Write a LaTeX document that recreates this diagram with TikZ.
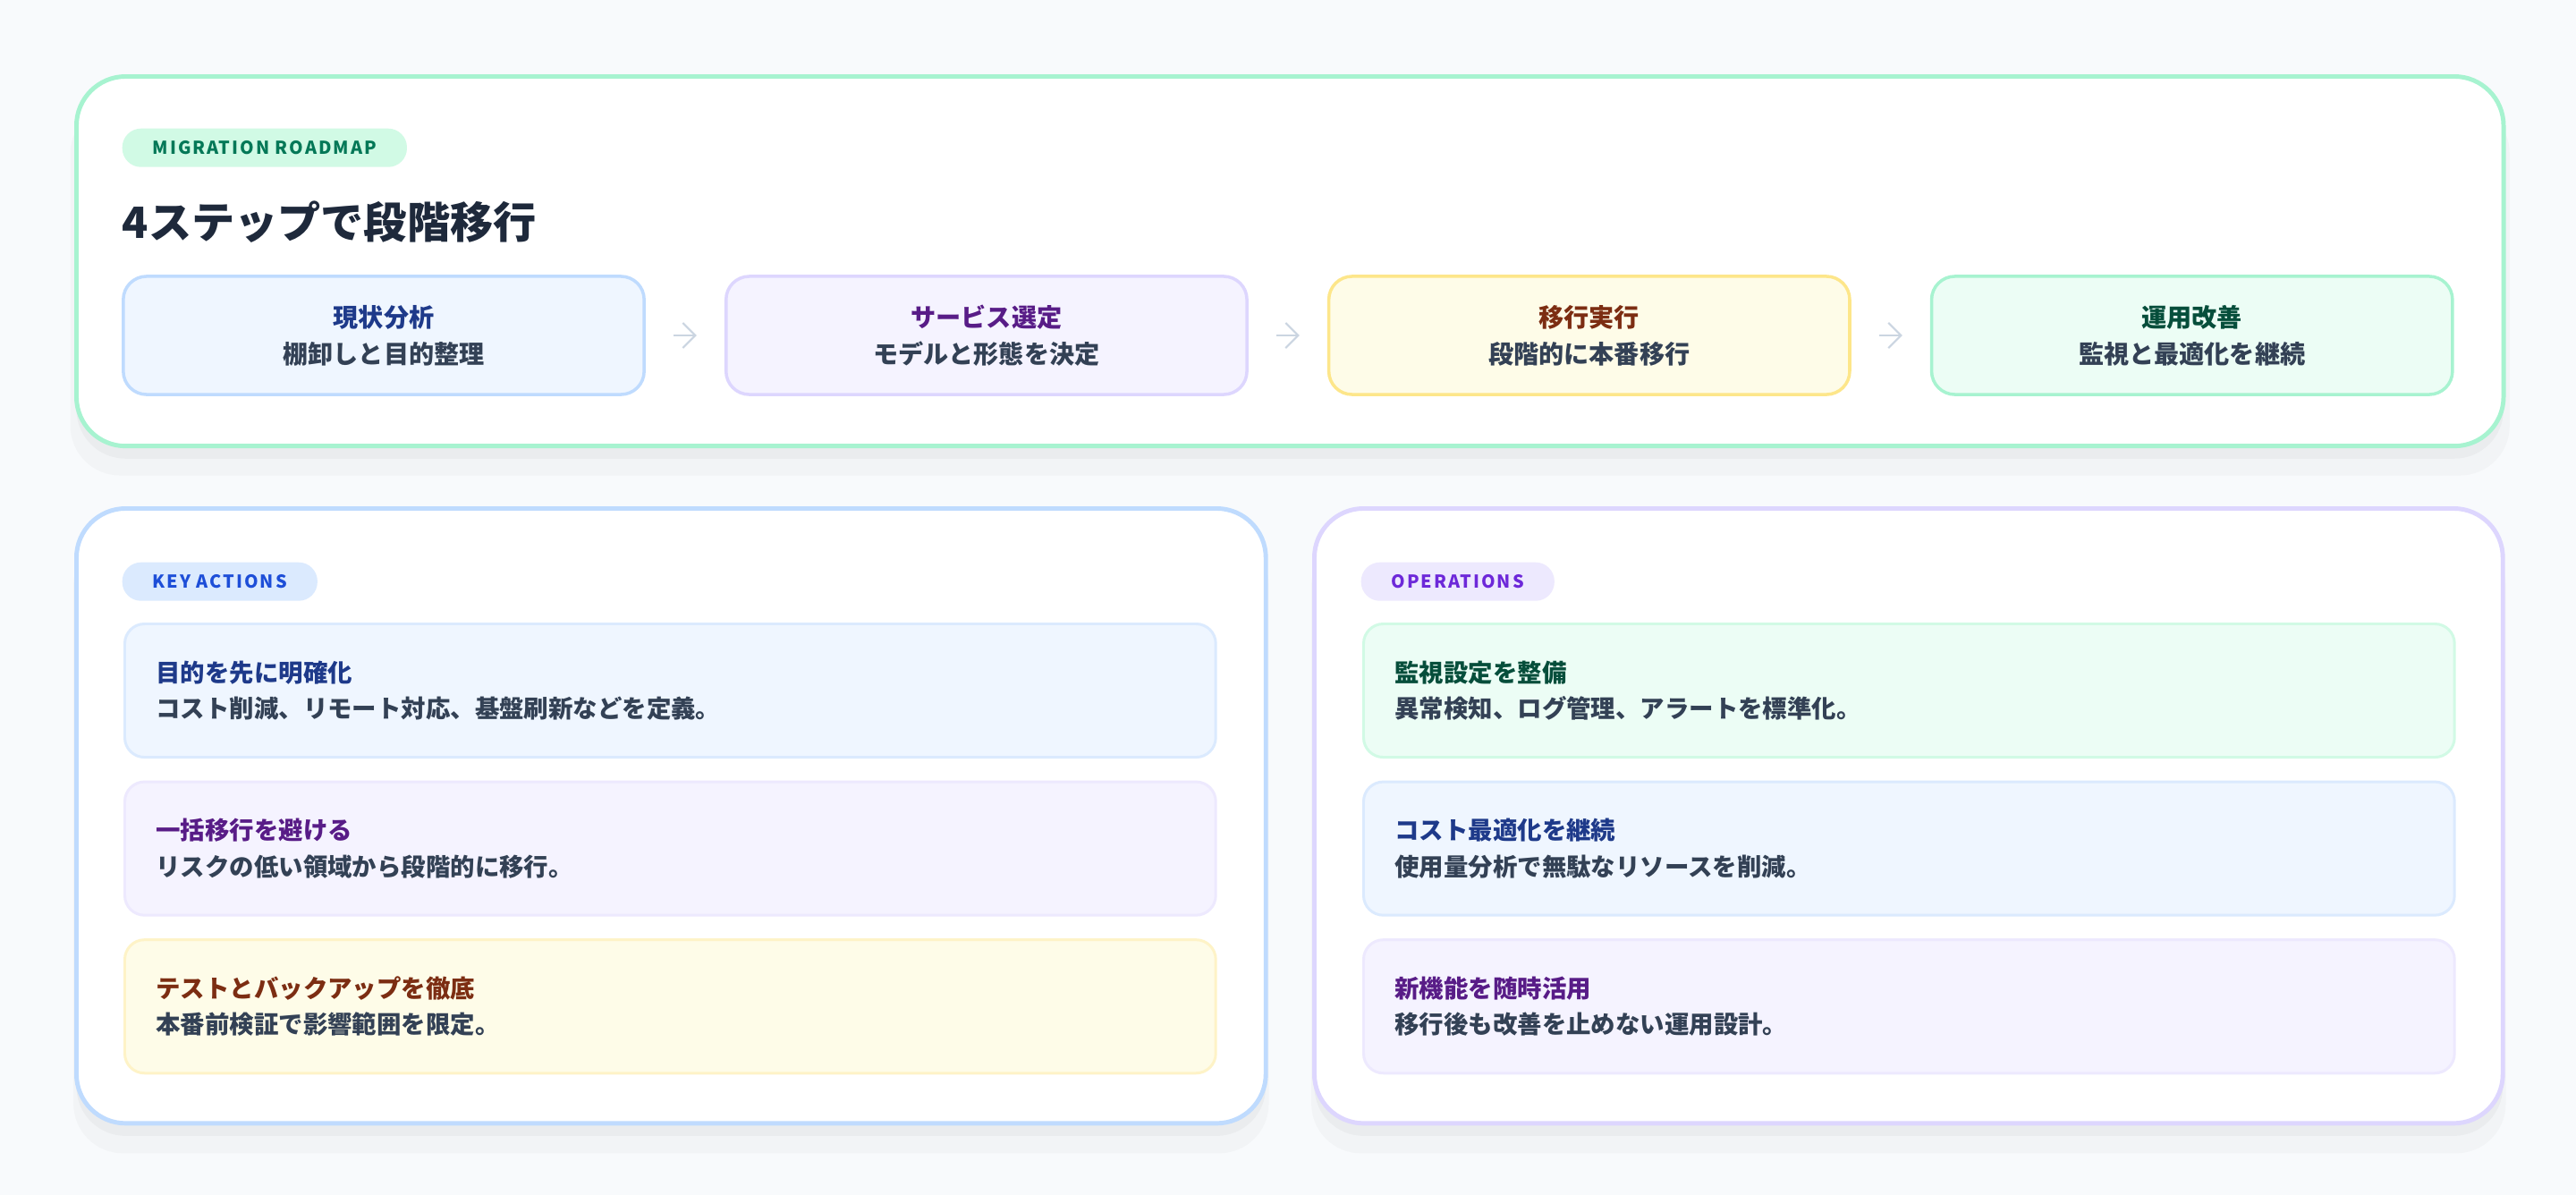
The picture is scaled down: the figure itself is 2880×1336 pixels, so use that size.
\documentclass[tikz,border=0pt]{standalone}
\usepackage{fontspec}
\setmainfont{Noto Sans CJK JP}
\usetikzlibrary{arrows.meta, positioning, shadows}
\definecolor{pagebg}{HTML}{F8FAFC}
\definecolor{inkdark}{HTML}{1E293B}
\definecolor{inkbody}{HTML}{334155}
\definecolor{arrowgray}{HTML}{CBD5E1}
\definecolor{blueline}{HTML}{BFDBFE}
\definecolor{bluesoft}{HTML}{DBEAFE}
\definecolor{bluefill}{HTML}{EFF6FF}
\definecolor{bluetext}{HTML}{1E3A8A}
\definecolor{bluebadge}{HTML}{1D4ED8}
\definecolor{purpleline}{HTML}{DDD6FE}
\definecolor{purplesoft}{HTML}{EDE9FE}
\definecolor{purplefill}{HTML}{F5F3FF}
\definecolor{purpletext}{HTML}{581C87}
\definecolor{purplebadge}{HTML}{6D28D9}
\definecolor{yellowline}{HTML}{FDE68A}
\definecolor{yellowsoft}{HTML}{FEF3C7}
\definecolor{yellowfill}{HTML}{FEFCE8}
\definecolor{browntext}{HTML}{7C2D12}
\definecolor{greenline}{HTML}{A7F3D0}
\definecolor{greensoft}{HTML}{D1FAE5}
\definecolor{greenfill}{HTML}{ECFDF5}
\definecolor{greentext}{HTML}{064E3B}
\definecolor{greenbadge}{HTML}{047857}
\tikzset{
	panel/.style={rectangle, rounded corners=0.55cm, line width=1.4pt, fill=white, anchor=north west,
		drop shadow={shadow xshift=0pt, shadow yshift=-9pt, shadow scale=1.005, opacity=0.025, fill=black},
		drop shadow={shadow xshift=0pt, shadow yshift=-4pt, opacity=0.03, fill=black}},
	badge/.style={rectangle, rounded corners=0.21cm, minimum height=0.43cm, inner xsep=0.34cm, inner ysep=0pt, anchor=north west, font=\bfseries\fontsize{5.65}{6}\selectfont\addfontfeature{LetterSpace=10}},
	stepbox/.style={rectangle, rounded corners=0.26cm, line width=1pt, minimum width=5.82cm, minimum height=1.32cm, align=center, text=inkbody, font=\bfseries\fontsize{8}{11.7}\selectfont},
	card/.style={rectangle, rounded corners=0.22cm, line width=0.85pt, minimum width=12.19cm, minimum height=1.49cm, text width=11.49cm, inner xsep=0.35cm, align=left, anchor=north west, text=inkbody, font=\bfseries\fontsize{7.8}{11.4}\selectfont},
	flow/.style={line width=0.6pt, arrowgray, shorten <=0.31cm, shorten >=0.31cm, -{Straight Barb[length=4pt, width=8pt]}}
}

\begin{document}
\begin{tikzpicture}[x=0.01cm, y=-0.01cm]
	\fill[pagebg] (0,0) rectangle (2880,1336);
	\useasboundingbox (0,0) rectangle (2880,1336);

	% Panels
	\node[panel, draw=greenline, minimum width=27.12cm, minimum height=4.13cm] (roadmap) at (83,83) {};
	\node[panel, draw=blueline, minimum width=13.29cm, minimum height=6.87cm] (actions) at (83,566) {};
	\node[panel, draw=purpleline, minimum width=13.28cm, minimum height=6.87cm] (ops) at (1467,566) {};

	% Roadmap
	\node[badge, fill=greensoft, text=greenbadge] (roadbadge) at (136,143) {MIGRATION\ ROADMAP};
	\node[anchor=west, inner sep=0pt, text=inkdark, font=\bfseries\fontsize{13.7}{16}\selectfont] (title) at (136,248) {4ステップで段階移行};

	\node[stepbox, draw=blueline, fill=bluefill] (s1) at (429,375) {{\color{bluetext}現状分析}\\棚卸しと目的整理};
	\node[stepbox, draw=purpleline, fill=purplefill, right=0.88cm of s1] (s2) {{\color{purpletext}サービス選定}\\モデルと形態を決定};
	\node[stepbox, draw=yellowline, fill=yellowfill, right=0.88cm of s2] (s3) {{\color{browntext}移行実行}\\段階的に本番移行};
	\node[stepbox, draw=greenline, fill=greenfill, right=0.88cm of s3] (s4) {{\color{greentext}運用改善}\\監視と最適化を継続};

	\draw[flow] (s1) -- (s2);
	\draw[flow] (s2) -- (s3);
	\draw[flow] (s3) -- (s4);

	% Key actions
	\node[badge, fill=bluesoft, text=bluebadge] (keybadge) at (136,628) {KEY\ ACTIONS};
	\node[card, draw=bluesoft, fill=bluefill] (a1) at (138,696) {{\color{bluetext}目的を先に明確化}\\コスト削減、リモート対応、基盤刷新などを定義。};
	\node[card, draw=purplesoft, fill=purplefill, below=0.245cm of a1.south west, anchor=north west] (a2) {{\color{purpletext}一括移行を避ける}\\リスクの低い領域から段階的に移行。};
	\node[card, draw=yellowsoft, fill=yellowfill, below=0.245cm of a2.south west, anchor=north west] (a3) {{\color{browntext}テストとバックアップを徹底}\\本番前検証で影響範囲を限定。};

	% Operations
	\node[badge, fill=purplesoft, text=purplebadge] (opsbadge) at (1521,628) {OPERATIONS};
	\node[card, draw=greensoft, fill=greenfill] (o1) at (1523,696) {{\color{greentext}監視設定を整備}\\異常検知、ログ管理、アラートを標準化。};
	\node[card, draw=bluesoft, fill=bluefill, below=0.245cm of o1.south west, anchor=north west] (o2) {{\color{bluetext}コスト最適化を継続}\\使用量分析で無駄なリソースを削減。};
	\node[card, draw=purplesoft, fill=purplefill, below=0.245cm of o2.south west, anchor=north west] (o3) {{\color{purpletext}新機能を随時活用}\\移行後も改善を止めない運用設計。};
\end{tikzpicture}
\end{document}
